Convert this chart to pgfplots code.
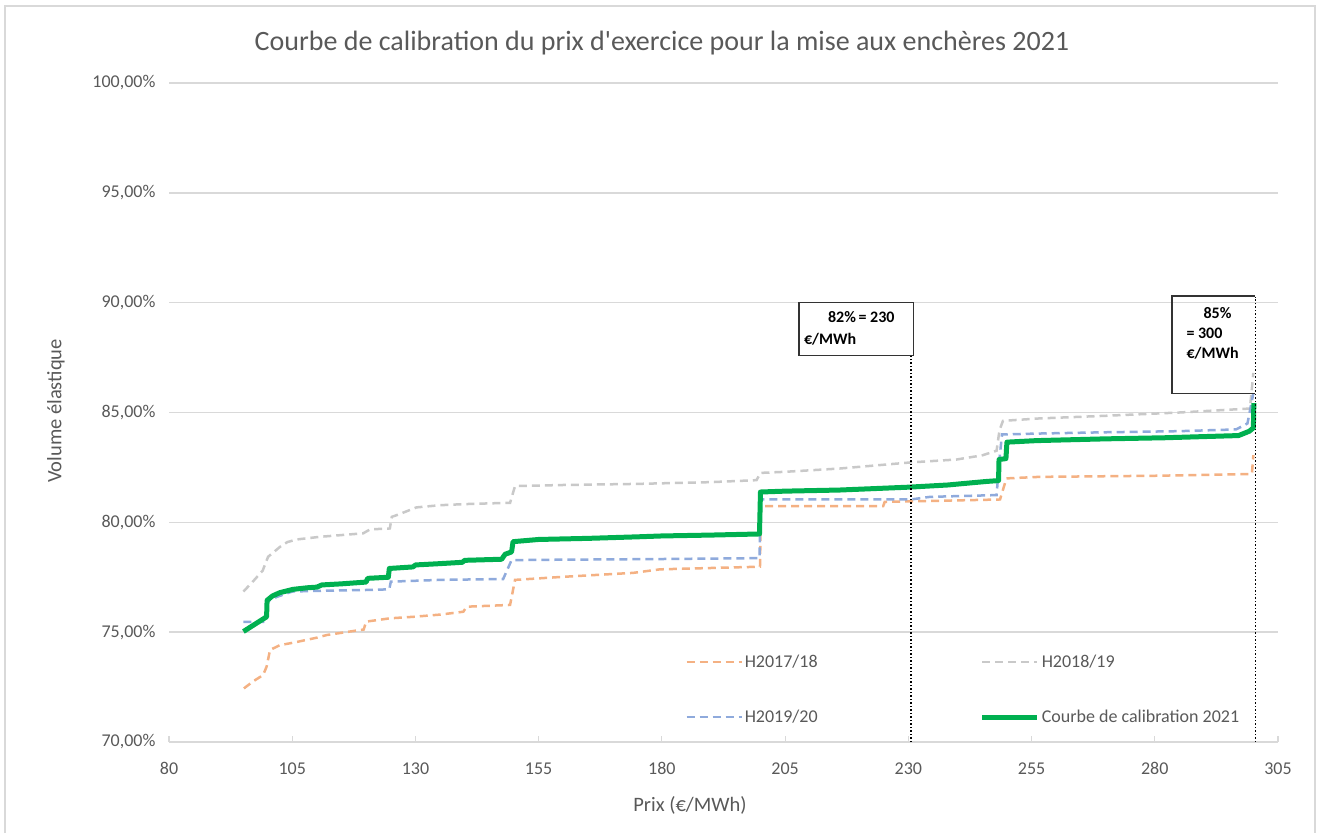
\documentclass[border=0pt]{standalone}
\usepackage{pgfplots}
\pgfplotsset{compat=1.18}
\usepackage{fontspec}
\setmainfont{Carlito}[Ligatures=TeXOff]
\definecolor{txtgray}{HTML}{595959}
\definecolor{gridgray}{HTML}{D9D9D9}
\definecolor{cgreen}{HTML}{00B050}
\definecolor{corange}{HTML}{F4B183}
\definecolor{cgray}{HTML}{C9C9C9}
\definecolor{cblue}{HTML}{8FAADC}
\begin{document}
\begin{tikzpicture}
\useasboundingbox (0,0) rectangle (1319pt,833pt);
\draw[gridgray, line width=1.5pt] (5pt,0pt) -- (5pt,827pt) -- (1315pt,827pt) -- (1315pt,0pt);
\node[txtgray, font=\fontsize{28}{32}\selectfont] at (662pt,790pt) {Courbe de calibration du prix d'exercice pour la mise aux enchères 2021};
\node[txtgray, font=\fontsize{20.5}{24}\selectfont, rotate=90] at (56pt,422pt) {Volume élastique};
\node[txtgray, font=\fontsize{20.5}{24}\selectfont] at (690pt,28pt) {Prix (€/MWh)};
\begin{axis}[
  at={(169pt,91pt)}, anchor=south west,
  scale only axis, width=1109pt, height=659pt,
  xmin=80, xmax=305, ymin=70, ymax=100,
  xtick={80,105,...,305}, ytick={70,75,...,100},
  /pgf/number format/assume math mode=true,
  yticklabel={\pgfmathprintnumber[fixed,fixed zerofill,precision=2,use comma]{\tick}\%},
  ticklabel style={font=\fontsize{18}{21}\selectfont, text=txtgray},
  yticklabel style={xshift=-10pt},
  xticklabel style={yshift=-17pt},
  axis x line*=bottom,
  axis y line*=left,
  y axis line style={draw=none},
  ytick style={draw=none},
  x axis line style={gridgray, line width=1.5pt, -},
  xtick style={gridgray, line width=1.2pt},
  tick align=inside, major tick length=6pt,
  ymajorgrids, grid style={gridgray, line width=1.5pt},
  clip=false,
  legend columns=2,
  legend cell align=left,
  legend image code/.code={\draw[#1] (0pt,0pt) -- (55pt,0pt);},
  legend style={at={(axis cs:184.7,74.05)}, anchor=north west, draw=none, fill=none,
    inner sep=0pt, row sep=37pt, font=\fontsize{18}{21}\selectfont, text=txtgray},
]
\addplot[corange, line width=2.5pt, dash pattern=on 8pt off 5pt, sharp plot] coordinates {
(95.2,72.44) (97,72.75) (99.1,73.05) (99.8,73.43) (100.5,74.19) (102.5,74.41) (105.2,74.52) (110,74.75) (112,74.87) (118.8,75.1) (119.5,75.12) (120,75.48) (124.8,75.63) (129.6,75.7) (135,75.8) (139.7,75.93) (140.4,76.16) (149.2,76.24) (150.2,77.38) (160,77.52) (174.2,77.7) (179.6,77.86) (199.9,77.98) (200.1,80.74) (224.9,80.74) (225.2,80.93) (248.6,81.04) (249.9,82.0) (256.6,82.07) (280,82.12) (299.7,82.2) (300,83.06)
};
\addlegendentry{\makebox[233pt][l]{H2017/18}}
\addplot[cgray, line width=2.5pt, dash pattern=on 8pt off 5pt, sharp plot] coordinates {
(95.1,76.85) (97,77.3) (99,77.8) (100.1,78.43) (101,78.6) (102.5,78.88) (104,79.1) (105.9,79.22) (110.6,79.34) (115,79.42) (119.4,79.5) (120.8,79.68) (124.8,79.72) (125.2,80.25) (126.5,80.35) (130.2,80.68) (135,80.78) (140,80.83) (149.2,80.89) (150.2,81.65) (160,81.7) (175,81.75) (190,81.83) (199.2,81.92) (200,82.25) (205,82.3) (216.1,82.45) (230.6,82.73) (239.8,82.86) (245,83.05) (247.9,83.26) (248.5,84.2) (249.2,84.62) (256.6,84.73) (270,84.85) (285,85.0) (299.3,85.18) (300,86.8)
};
\addlegendentry{H2018/19}
\addplot[cblue, line width=2.5pt, dash pattern=on 8pt off 5pt, sharp plot] coordinates {
(95.1,75.47) (99.8,75.47) (100,76.4) (101.8,76.6) (105,76.85) (110,76.88) (120,76.92) (124.7,76.95) (125,77.3) (135,77.38) (147.8,77.42) (149.5,78.28) (160,78.3) (180,78.33) (199.8,78.37) (200,81.05) (216,81.05) (230.5,81.04) (234.4,81.16) (247.9,81.24) (248.5,82.9) (249,84.0) (256,84.04) (270,84.1) (285,84.15) (296.5,84.23) (298.8,84.5) (300,85.88)
};
\addlegendentry{\makebox[233pt][l]{H2019/20}}
\addplot[cgreen, line width=5pt, sharp plot, line join=round] coordinates {
(95.1,75.03) (97,75.3) (99.8,75.7) (99.9,76.45) (101,76.65) (102.5,76.8) (105.2,76.95) (108,77.02) (110,77.05) (111,77.15) (115,77.2) (120,77.28) (120.3,77.45) (124.5,77.5) (124.7,77.9) (129.5,77.97) (130,78.06) (135,78.12) (139.5,78.18) (140,78.27) (147.5,78.32) (148.2,78.55) (149.5,78.65) (149.8,79.12) (155,79.22) (165,79.27) (175,79.34) (180,79.38) (190,79.42) (199.8,79.47) (200,81.38) (205,81.42) (216,81.47) (230,81.6) (238,81.7) (245.8,81.86) (248.3,81.9) (248.4,82.86) (249.8,82.9) (250,83.65) (256,83.72) (270,83.8) (282,83.85) (297,83.95) (299.2,84.15) (300,84.3) (300.1,85.43)
};
\addlegendentry{Courbe de calibration 2021}
% annotations
\draw[black, line width=1.5pt, dotted] (axis cs:230.5,70) -- (axis cs:230.5,87.6);
\draw[black, line width=1.5pt, dotted] (axis cs:300.4,70) -- (axis cs:300.4,90.25);
\draw[black!80, line width=1.2pt] (axis cs:207.8,87.6) rectangle (axis cs:231,90);
\draw[black!80, line width=1.2pt] (axis cs:300.4,85.85) -- (axis cs:283.5,85.85) -- (axis cs:283.5,90.3) -- (axis cs:300.4,90.3);
\node[anchor=north west, font=\bfseries\fontsize{16}{22}\selectfont, align=left, inner sep=0pt] at (axis cs:208.8,89.6) {\hspace*{24pt}82\%\,= 230\\€/MWh};
\node[anchor=north west, font=\bfseries\fontsize{16}{20}\selectfont, align=left, inner sep=0pt] at (axis cs:286.4,89.8) {\hspace*{17pt}85\%\\= 300\\€/MWh};
\end{axis}
\end{tikzpicture}
\end{document}
